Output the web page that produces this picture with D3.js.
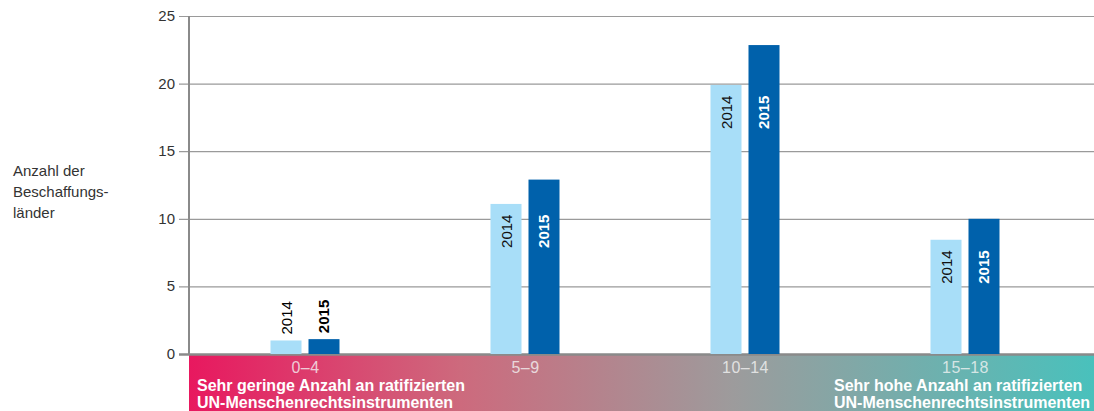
<!DOCTYPE html>
<html><head><meta charset="utf-8">
<script src="https://cdn.jsdelivr.net/npm/d3@7"></script>
<style>body{margin:0;background:#fff}svg{display:block;font-family:"Liberation Sans",Arial,sans-serif}</style>
</head><body><svg id="c" width="1094" height="411"></svg>
<script>
const categories = ["0–4", "5–9", "10–14", "15–18"];
const series = ["2014", "2015"];
const values2014 = [1.0, 11.1, 19.9, 8.45];
const values2015 = [1.1, 12.9, 22.85, 10.0];
const yTicks = [0, 5, 10, 15, 20, 25];
const yTitle = ["Anzahl der", "Beschaffungs-", "länder"];
const leftNote = ["Sehr geringe Anzahl an ratifizierten", "UN-Menschenrechtsinstrumenten"];
const rightNote = ["Sehr hohe Anzahl an ratifizierten", "UN-Menschenrechtsinstrumenten"];

const svg = d3.select("#c");
const W = 1094, H = 411;
const x0 = 189, yTop = 16, yBot = 354;
const y = d3.scaleLinear().domain([0, 25]).range([yBot, yTop]);
const xb = d3.scaleBand().domain(categories).range([195, 1075]);
const xs = d3.scaleBand().domain(series).range([-34.5, 34.5]).paddingInner(0.184);

// gradient band
const defs = svg.append("defs");
const g = defs.append("linearGradient").attr("id", "grad").attr("x1", 0).attr("x2", 1).attr("y1", 0).attr("y2", 0);
g.append("stop").attr("offset", "0").attr("stop-color", "#e8185f");
g.append("stop").attr("offset", "0.3").attr("stop-color", "#cd6a7d");
g.append("stop").attr("offset", "0.6").attr("stop-color", "#9d9b9c");
g.append("stop").attr("offset", "1").attr("stop-color", "#49c1bc");
svg.append("rect").attr("x", x0).attr("y", yBot + 1).attr("width", W - x0).attr("height", H - yBot - 1).attr("fill", "url(#grad)");

// grid
svg.append("g").selectAll("line").data(yTicks.filter(d => d > 0)).join("line")
  .attr("x1", 179).attr("x2", W).attr("y1", d => y(d) + 0.5).attr("y2", d => y(d) + 0.5)
  .attr("stroke", "#9a9a9a").attr("stroke-width", 1.2);
svg.append("line").attr("x1", 179).attr("x2", W).attr("y1", yBot + 0.5).attr("y2", yBot + 0.5)
  .attr("stroke", "#8a8a8a").attr("stroke-width", 2.5);
svg.append("line").attr("x1", x0).attr("x2", x0).attr("y1", yTop).attr("y2", yBot + 1)
  .attr("stroke", "#8a8a8a").attr("stroke-width", 2);

// y tick labels
svg.append("g").selectAll("text").data(yTicks).join("text")
  .attr("x", 175).attr("y", d => y(d) + 5).attr("text-anchor", "end")
  .attr("font-size", 15).attr("fill", "#333").text(d => d);

// y title
svg.append("g").selectAll("text").data(yTitle).join("text")
  .attr("x", 13).attr("y", (d, i) => 176 + i * 21).attr("font-size", 15).attr("fill", "#333").text(d => d);

// bars
const rows = categories.map((c, i) => ({c, v: [values2014[i], values2015[i]]}));
const colors = {"2014": "#a8def8", "2015": "#0061ab"};
rows.forEach((r, i) => {
  const cx = xb(r.c) + xb.bandwidth() / 2;
  series.forEach((s, j) => {
    const v = r.v[j];
    const bx = cx + xs(s);
    svg.append("rect").attr("x", bx).attr("y", y(v)).attr("width", xs.bandwidth())
      .attr("height", yBot - y(v)).attr("fill", colors[s]);
    const tx = bx + xs.bandwidth() / 2 + 5.5;
    let ty, fill;
    if (i === 0) { ty = y(v) - 6; fill = "#000"; }
    else { ty = y(r.v[0]) + 44; fill = j === 0 ? "#111" : "#fff"; }
    svg.append("text").attr("transform", `translate(${tx},${ty}) rotate(-90)`)
      .attr("font-size", 15).attr("font-weight", j === 1 ? "bold" : "normal")
      .attr("fill", fill).text(s);
  });
  svg.append("text").attr("x", cx + 0.5).attr("y", 373).attr("text-anchor", "middle")
    .attr("font-size", 16).attr("letter-spacing", 0.5).attr("fill", "#f4f4f4").attr("fill-opacity", 0.8).text(r.c);
});

// notes
svg.append("g").selectAll("text").data(leftNote).join("text")
  .attr("x", 197).attr("y", (d, i) => 391 + i * 17).attr("font-size", 16).attr("font-weight", "bold")
  .attr("fill", "#fff").text(d => d);
svg.append("g").selectAll("text").data(rightNote).join("text")
  .attr("x", 834).attr("y", (d, i) => 391 + i * 17).attr("font-size", 16).attr("font-weight", "bold")
  .attr("fill", "#fff").text(d => d);
</script></body></html>
